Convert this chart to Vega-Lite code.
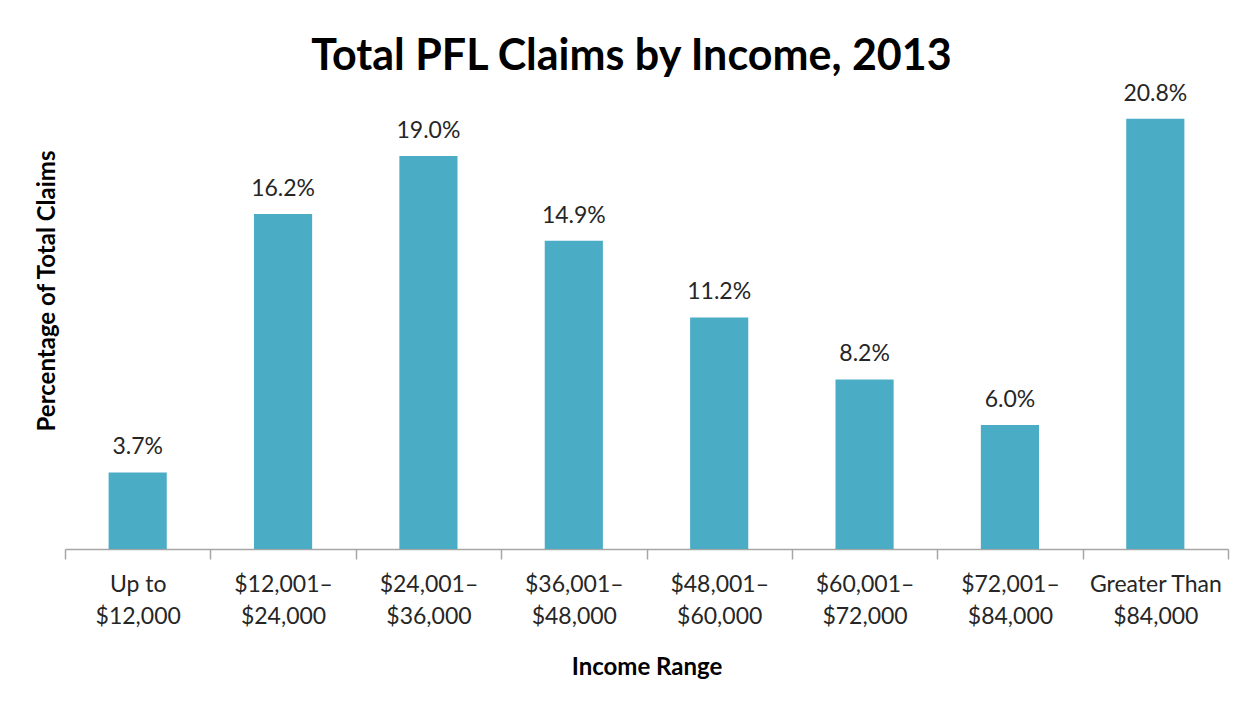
{
  "$schema": "https://vega.github.io/schema/vega-lite/v6.json",
  "width": 1163,
  "height": 517,
  "autosize": "none",
  "padding": {"left": 65, "top": 32, "right": 27, "bottom": 153},
  "background": "white",
  "title": {
    "text": "Total PFL Claims by Income, 2013",
    "font": "Lato",
    "fontSize": 43,
    "fontWeight": "bold",
    "color": "#000000",
    "anchor": "middle",
    "baseline": "alphabetic",
    "offset": -81,
    "dx": -15
  },
  "data": {
    "values": [
      {"range": "Up to|$12,000", "share": 0.037},
      {"range": "$12,001–|$24,000", "share": 0.162},
      {"range": "$24,001–|$36,000", "share": 0.190},
      {"range": "$36,001–|$48,000", "share": 0.149},
      {"range": "$48,001–|$60,000", "share": 0.112},
      {"range": "$60,001–|$72,000", "share": 0.082},
      {"range": "$72,001–|$84,000", "share": 0.060},
      {"range": "Greater Than|$84,000", "share": 0.208}
    ]
  },
  "encoding": {
    "x": {
      "field": "range",
      "type": "nominal",
      "sort": null,
      "scale": {"paddingInner": 0, "paddingOuter": 0},
      "axis": {
        "title": "Income Range",
        "titleFont": "Lato",
        "titleFontSize": 24,
        "titleFontWeight": "bold",
        "titleColor": "#000000",
        "titlePadding": 27,
        "labelExpr": "split(datum.label, '|')",
        "labelFont": "Lato",
        "labelFontSize": 23,
        "labelColor": "#262626",
        "labelLineHeight": 32,
        "labelAngle": 0,
        "labelLimit": 0,
        "labelPadding": 14,
        "tickBand": "extent",
        "tickSize": 10,
        "tickColor": "#A6A6A6",
        "tickWidth": 1.5,
        "domainColor": "#A6A6A6",
        "domainWidth": 1.5,
        "grid": false
      }
    },
    "y": {
      "field": "share",
      "type": "quantitative",
      "scale": {"domain": [0, 0.25], "nice": false},
      "axis": {
        "title": "Percentage of Total Claims",
        "titleFont": "Lato",
        "titleFontSize": 24,
        "titleFontWeight": "bold",
        "titleColor": "#000000",
        "titlePadding": 6,
        "labels": false,
        "ticks": false,
        "domain": false,
        "grid": false
      }
    }
  },
  "layer": [
    {"mark": {"type": "bar", "width": {"band": 0.4}, "color": "#4BACC6"}},
    {
      "mark": {
        "type": "text",
        "baseline": "alphabetic",
        "dy": -18,
        "font": "Lato",
        "fontSize": 23,
        "color": "#262626"
      },
      "encoding": {"text": {"field": "share", "format": ".1%"}}
    }
  ],
  "config": {"view": {"stroke": null}}
}
